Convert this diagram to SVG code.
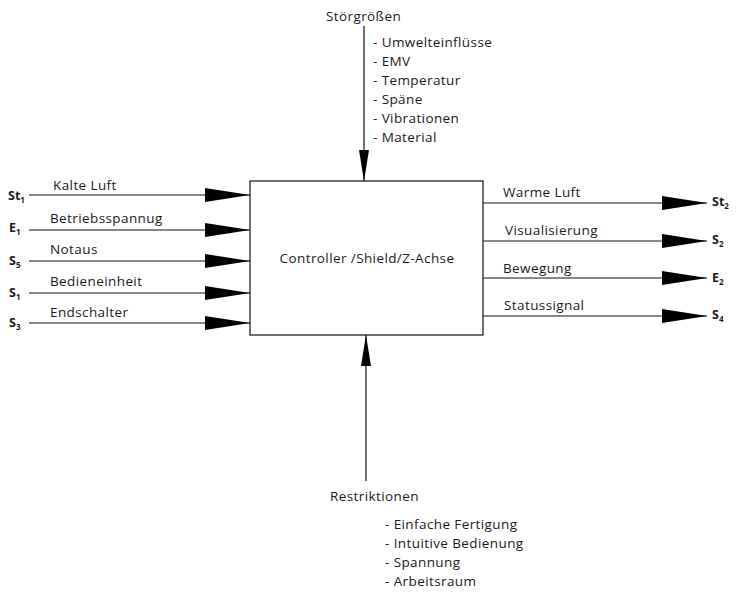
<svg xmlns="http://www.w3.org/2000/svg" width="737" height="599" viewBox="0 0 737 599">
<style>
text{font-family:"Open Sans","Noto Sans","Liberation Sans",sans-serif;font-size:13.5px;letter-spacing:0.4px;fill:#1a1a1a}
.b{font-weight:bold;font-size:12.5px;letter-spacing:0}
.sub{font-size:8px;font-weight:bold}
.ln{stroke:#111;stroke-width:1.2;fill:none}
</style>
<defs>
<marker id="ah" markerUnits="userSpaceOnUse" markerWidth="46" markerHeight="14" refX="45" refY="7" orient="auto">
<path d="M0,0 L45,7 L0,14 z" fill="#000"/>
</marker>
<marker id="av" markerUnits="userSpaceOnUse" markerWidth="32" markerHeight="10" refX="31" refY="5" orient="auto">
<path d="M0,0 L31,5 L0,10 z" fill="#000"/>
</marker>
</defs>
<g id="box">
<rect x="250" y="181" width="233" height="154" fill="#fff" stroke="#111" stroke-width="1.2"/>
<text x="367" y="263" text-anchor="middle">Controller /Shield/Z-Achse</text>
</g>
<g id="connectors">
<line class="ln" x1="29" y1="195" x2="250" y2="195" marker-end="url(#ah)"/>
<line class="ln" x1="29" y1="230" x2="250" y2="230" marker-end="url(#ah)"/>
<line class="ln" x1="29" y1="261" x2="250" y2="261" marker-end="url(#ah)"/>
<line class="ln" x1="29" y1="293" x2="250" y2="293" marker-end="url(#ah)"/>
<line class="ln" x1="29" y1="323" x2="250" y2="323" marker-end="url(#ah)"/>
<line class="ln" x1="483" y1="203" x2="707" y2="203" marker-end="url(#ah)"/>
<line class="ln" x1="483" y1="241" x2="707" y2="241" marker-end="url(#ah)"/>
<line class="ln" x1="483" y1="278" x2="707" y2="278" marker-end="url(#ah)"/>
<line class="ln" x1="483" y1="316" x2="707" y2="316" marker-end="url(#ah)"/>
<line class="ln" x1="364" y1="26" x2="364" y2="181" marker-end="url(#av)"/>
<line class="ln" x1="366" y1="481" x2="366" y2="335" marker-end="url(#av)"/>
</g>
<g id="in-st1"><text class="b" x="8" y="200">St<tspan class="sub" dy="3">1</tspan></text><text x="53" y="190">Kalte Luft</text></g>
<g id="in-e1"><text class="b" x="9" y="232">E<tspan class="sub" dy="3">1</tspan></text><text x="50" y="223">Betriebsspannug</text></g>
<g id="in-s5"><text class="b" x="9" y="265">S<tspan class="sub" dy="3">5</tspan></text><text x="50" y="254">Notaus</text></g>
<g id="in-s1"><text class="b" x="9" y="297">S<tspan class="sub" dy="3">1</tspan></text><text x="50" y="286">Bedieneinheit</text></g>
<g id="in-s3"><text class="b" x="9" y="327">S<tspan class="sub" dy="3">3</tspan></text><text x="50" y="317">Endschalter</text></g>
<g id="out-st2"><text class="b" x="712" y="206">St<tspan class="sub" dy="3">2</tspan></text><text x="503" y="197">Warme Luft</text></g>
<g id="out-s2"><text class="b" x="712" y="244">S<tspan class="sub" dy="3">2</tspan></text><text x="505" y="235">Visualisierung</text></g>
<g id="out-e2"><text class="b" x="712" y="282">E<tspan class="sub" dy="3">2</tspan></text><text x="503" y="273">Bewegung</text></g>
<g id="out-s4"><text class="b" x="712" y="319">S<tspan class="sub" dy="3">4</tspan></text><text x="504" y="310">Statussignal</text></g>
<g id="stoergroessen">
<text x="326" y="21">Störgrößen</text>
<text x="373" y="47">- Umwelteinflüsse</text>
<text x="373" y="66">- EMV</text>
<text x="373" y="85">- Temperatur</text>
<text x="373" y="104">- Späne</text>
<text x="373" y="123">- Vibrationen</text>
<text x="373" y="142">- Material</text>
</g>
<g id="restriktionen">
<text x="330" y="501">Restriktionen</text>
<text x="385" y="529">- Einfache Fertigung</text>
<text x="385" y="548">- Intuitive Bedienung</text>
<text x="385" y="567">- Spannung</text>
<text x="385" y="586">- Arbeitsraum</text>
</g>
</svg>
